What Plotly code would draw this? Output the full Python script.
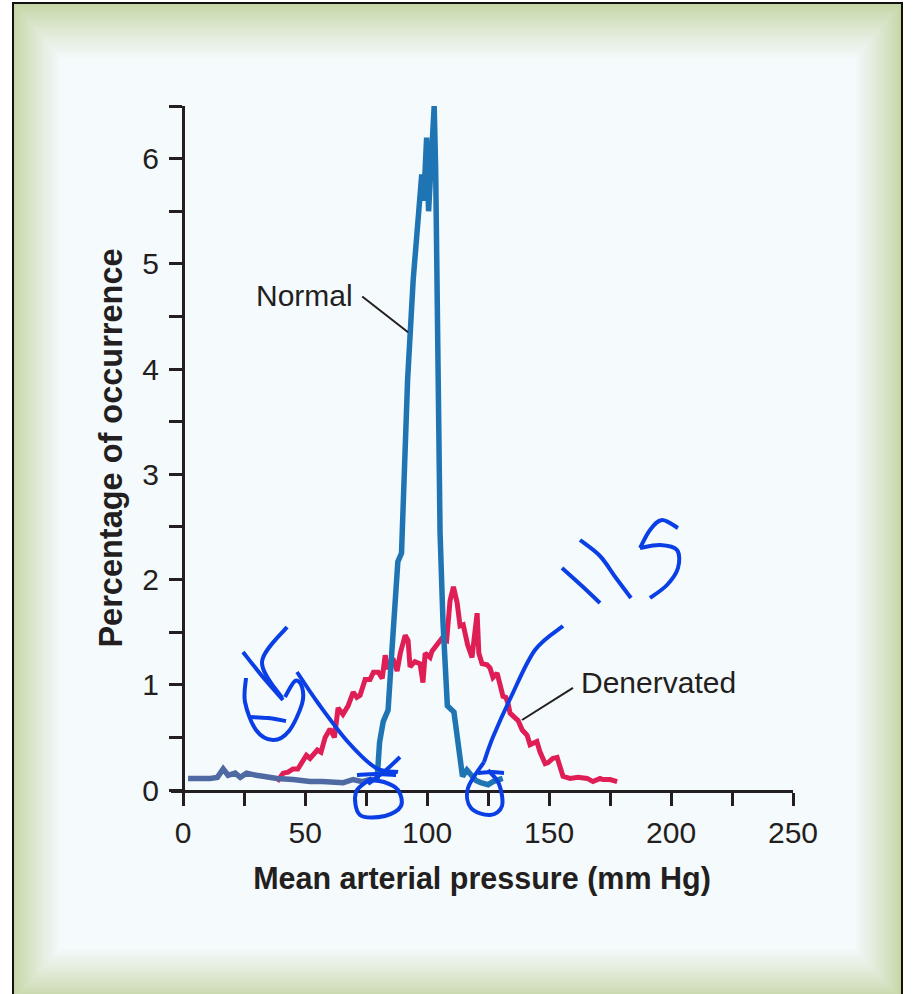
import plotly.graph_objects as go

# ---------------- data ----------------
normal_x = [2, 5, 8, 11, 14, 16.4, 18.4, 21.3, 23.4, 26, 30, 34.4, 38.5, 45, 52, 57, 65.6, 69.7, 73.4, 76.6, 79.5,
            80.5, 82, 84, 85.5, 87, 88, 89.5, 90.3, 92, 94.3, 96.5, 97.8, 98.6, 99.8, 100.6, 102.9, 103.5, 104,
            104.6, 105.3, 106.5, 108.3, 111, 113, 114.5, 116.3, 118.4, 120, 122, 125, 127, 129, 131]
normal_y = [0.11, 0.11, 0.1, 0.11, 0.12, 0.2, 0.14, 0.16, 0.12, 0.16, 0.14, 0.12, 0.11, 0.1, 0.08, 0.08, 0.07, 0.1, 0.08, 0.1, 0.1,
            0.45, 0.65, 0.76, 1.3, 1.95, 2.17, 2.25, 2.7, 3.9, 4.85, 5.5, 5.85, 5.6, 6.2, 5.5, 6.5, 5.9, 4.75,
            3.6, 2.45, 1.6, 0.8, 0.74, 0.4, 0.13, 0.19, 0.13, 0.09, 0.07, 0.05, 0.08, 0.1, 0.11]
normal_tail_end = 79.5   # low flat tail drawn in slate tone

den_x = [38.5, 41, 43, 45, 47, 48.8, 50.5, 52, 53.2, 55, 56.5, 58.2, 60.2, 62, 63.5, 65.5, 67.6, 69.7, 71.2, 72.5,
         74.6, 76.6, 78, 80, 81.6, 82.8, 84, 86, 87.7, 89, 91, 92.2, 93, 95, 97.1, 98.3, 99.2, 101.2, 102, 103.3,
         104.5, 106, 108, 109.4, 110.8, 112.3, 113.5, 114.8, 116.6, 118.4, 120.5, 121.2, 122.5, 124.6, 125.8, 127,
         128.7, 129.9, 131.1, 132.3, 133.2, 134, 136, 137.3, 139, 141, 142.2, 145, 146.3, 148.4, 149.6, 151.5,
         153.3, 154.5, 155.7, 158.6, 161.9, 165.6, 168, 170.9, 172.1, 175, 177.9]
den_y = [0.08, 0.16, 0.17, 0.2, 0.2, 0.26, 0.33, 0.3, 0.34, 0.38, 0.36, 0.5, 0.58, 0.5, 0.78, 0.72, 0.8, 0.93, 0.88, 0.9,
         1.05, 1.05, 1.12, 1.12, 1.06, 1.28, 1.15, 1.25, 1.13, 1.3, 1.47, 1.42, 1.17, 1.22, 1.2, 1.02, 1.3, 1.26, 1.32, 1.36,
         1.4, 1.44, 1.42, 1.8, 1.93, 1.78, 1.56, 1.57, 1.38, 1.26, 1.68, 1.3, 1.2, 1.19, 1.16, 1.07,
         1.11, 0.97, 0.89, 0.88, 0.82, 0.73, 0.69, 0.66, 0.57, 0.52, 0.43, 0.46, 0.36, 0.25, 0.26, 0.3,
         0.31, 0.22, 0.13, 0.11, 0.12, 0.11, 0.08, 0.11, 0.1, 0.1, 0.08]

x_ticks = [0, 50, 100, 150, 200, 250]
y_ticks = [0, 1, 2, 3, 4, 5, 6]

# ---------------- styling ----------------
FONT = "Liberation Sans, Arial, Helvetica, sans-serif"
INK = "#231f20"
BLUE = "#1f74b4"
SLATE = "#4f6aa3"
RED = "#e01e56"
PEN = "#0b3fe6"

W, H = 918, 994
L, R, T, B = 171, 793, 106, 790  # plot area in pixels


def px(x):
    return (x - L) / (R - L)


def py(y):
    return (B - y) / (B - T)


fig = go.Figure()

tail_x = [x for x in normal_x if x <= normal_tail_end]
tail_y = normal_y[:len(tail_x)]
main_x = normal_x[len(tail_x) - 1:]
main_y = normal_y[len(tail_x) - 1:]

fig.add_trace(go.Scatter(x=den_x, y=den_y, mode="lines", name="Denervated",
                         line=dict(color=RED, width=5), showlegend=False))
fig.add_trace(go.Scatter(x=tail_x, y=tail_y, mode="lines", name="Normal",
                         line=dict(color=SLATE, width=5.5), showlegend=False))
fig.add_trace(go.Scatter(x=main_x, y=main_y, mode="lines", name="Normal",
                         line=dict(color=BLUE, width=5.5), showlegend=False))

shapes = []

# background frame with green bevel gradient
green = (196, 213, 164)
light = (245, 250, 253)
N = 30
for i in range(N):
    t = i / (N - 1)
    f = t ** 0.85
    c = tuple(round(green[k] + (light[k] - green[k]) * f) for k in range(3))
    ix, it, ib = 48 * t, 56 * t, 52 * t
    shapes.append(dict(type="rect", xref="paper", yref="paper", layer="below",
                       x0=px(13 + ix), x1=px(902 - ix), y0=py(1000 - ib), y1=py(3 + it),
                       fillcolor="rgb(%d,%d,%d)" % c, line=dict(width=0)))
shapes.append(dict(type="rect", xref="paper", yref="paper", layer="below",
                   x0=px(13), x1=px(902), y0=py(1000), y1=py(3),
                   fillcolor="rgba(0,0,0,0)", line=dict(color="#111111", width=2)))

# leader lines for labels
shapes.append(dict(type="line", xref="x", yref="y", x0=73.4, y0=4.69, x1=92.2, y1=4.35,
                   line=dict(color=INK, width=2)))
shapes.append(dict(type="line", xref="x", yref="y", x0=159.8, y0=0.97, x1=138.9, y1=0.665,
                   line=dict(color=INK, width=2)))


# handwritten pen strokes (pixel coordinates on the page)
def smooth_path(pts):
    P = [(px(a), py(b)) for a, b in pts]
    if len(P) < 3:
        return "M %f %f L %f %f" % (P[0][0], P[0][1], P[1][0], P[1][1])
    d = "M %f %f" % P[0]
    for i in range(len(P) - 1):
        p0 = P[i - 1] if i > 0 else P[i]
        p1, p2 = P[i], P[i + 1]
        p3 = P[i + 2] if i + 2 < len(P) else P[i + 1]
        c1 = (p1[0] + (p2[0] - p0[0]) / 6, p1[1] + (p2[1] - p0[1]) / 6)
        c2 = (p2[0] - (p3[0] - p1[0]) / 6, p2[1] - (p3[1] - p1[1]) / 6)
        d += " C %f %f %f %f %f %f" % (c1[0], c1[1], c2[0], c2[1], p2[0], p2[1])
    return d


strokes = [
    # "8" diagonal
    [(243, 652), (262, 676), (283, 700)],
    # loop
    [(246, 678), (245, 702), (256, 730), (273, 740), (289, 731), (302, 704), (302, 687), (295, 681), (285, 697)],
    # crossbar
    [(251, 717), (268, 718), (286, 721)],
    # "5"
    [(287, 627), (262, 662), (282, 698)],
    # long arrow toward 75
    [(297, 672), (318, 703), (348, 742), (376, 768), (398, 772)],
    [(400, 757), (385, 771), (368, 784)],
    [(357, 775), (376, 774), (396, 775)],
    # circle at 75 tick
    [(372, 778), (356, 792), (360, 815), (385, 816), (401, 806), (398, 790), (384, 782), (368, 780)],
    # "115"
    [(562, 568), (582, 586), (600, 603)],
    [(580, 540), (600, 556), (616, 578), (631, 598)],
    [(678, 528), (662, 520), (650, 530), (640, 548)],
    [(640, 548), (660, 545), (677, 550), (678, 568), (667, 585), (650, 598)],
    # arrow from 115 down to the 125 circle
    [(563, 626), (535, 650), (511, 697), (493, 737), (484, 762)],
    # circle / mark at 125 tick
    [(484, 762), (468, 788), (471, 808), (490, 815), (502, 806), (499, 784), (488, 770)],
    [(478, 773), (492, 772), (504, 773)],
]
for s in strokes:
    shapes.append(dict(type="path", xref="paper", yref="paper", layer="above",
                       path=smooth_path(s), line=dict(color=PEN, width=4)))

annotations = [
    dict(x=49.6, y=4.70, xref="x", yref="y", text="Normal", showarrow=False,
         font=dict(family=FONT, size=30, color=INK)),
    dict(x=194.7, y=1.02, xref="x", yref="y", text="Denervated", showarrow=False,
         font=dict(family=FONT, size=30, color=INK)),
]

tickfont = dict(family=FONT, size=30, color=INK)

fig.update_layout(
    width=W, height=H,
    margin=dict(l=L, r=W - R, t=T, b=H - B, pad=0),
    paper_bgcolor="white",
    plot_bgcolor="rgba(0,0,0,0)",
    shapes=shapes,
    annotations=annotations,
    showlegend=False,
    xaxis=dict(
        range=[-5, 250], tickvals=x_ticks, ticktext=[str(v) for v in x_ticks],
        showgrid=False, zeroline=False, showline=True, linecolor=INK, linewidth=3,
        ticks="outside", ticklen=13, tickwidth=3, tickcolor=INK, tickfont=tickfont,
        ticklabelstandoff=1,
        minor=dict(dtick=25, tick0=0, ticks="outside", ticklen=13, tickwidth=3, tickcolor=INK, showgrid=False),
        title=dict(text="<b>Mean arterial pressure (mm Hg)</b>", font=dict(family=FONT, size=30.5, color=INK),
                   standoff=20),
    ),
    yaxis=dict(
        range=[0, 6.5], tickvals=y_ticks, ticktext=[str(v) for v in y_ticks],
        anchor="free", position=px(183),
        showgrid=False, zeroline=False, showline=True, linecolor=INK, linewidth=3,
        ticks="outside", ticklen=13, tickwidth=3, tickcolor=INK, tickfont=tickfont,
        ticklabelstandoff=4,
        minor=dict(dtick=0.5, tick0=0, ticks="outside", ticklen=13, tickwidth=3, tickcolor=INK, showgrid=False),
        title=dict(text="<b>Percentage of occurrence</b>", font=dict(family=FONT, size=32.5, color=INK),
                   standoff=8),
    ),
)

fig.write_html("out.html", config={"displayModeBar": False},
               post_script="document.body.style.margin='0px';")
